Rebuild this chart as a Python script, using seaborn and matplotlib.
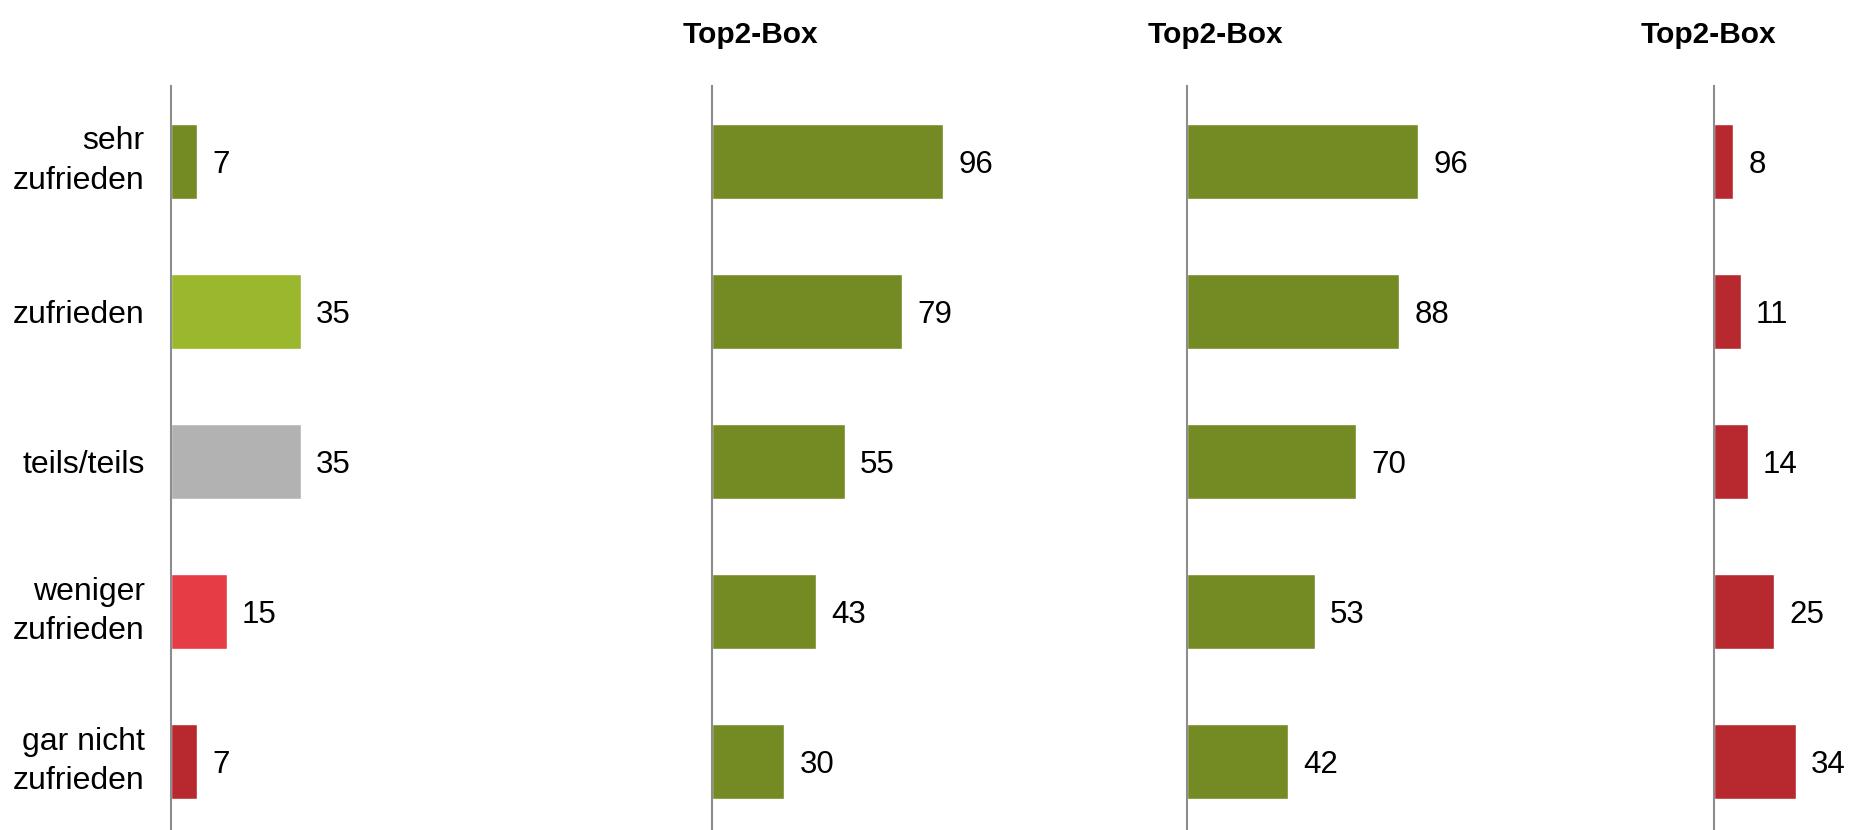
import matplotlib
matplotlib.use("Agg")
import matplotlib.pyplot as plt
import seaborn as sns
import pandas as pd

categories = ["sehr\nzufrieden", "zufrieden", "teils/teils", "weniger\nzufrieden", "gar nicht\nzufrieden"]
dist_values = [7, 35, 35, 15, 7]
dist_colors = ["#748A23", "#9BB72E", "#B2B2B2", "#E63C45", "#B8282F"]
top2_a = [96, 79, 55, 43, 30]
top2_b = [96, 88, 70, 53, 42]
top2_c = [8, 11, 14, 25, 34]
panel_titles = ["", "Top2-Box", "Top2-Box", "Top2-Box"]

sns.set_style("white")
plt.rcParams["font.family"] = ["Liberation Sans", "DejaVu Sans"]
plt.rcParams["text.color"] = "black"
plt.rcParams["ytick.color"] = "black"
plt.rcParams["ytick.labelcolor"] = "black"

W, H = 1850, 830
fig = plt.figure(figsize=(W / 100, H / 100), dpi=100)

# panel geometry in pixels: (left, width, px per unit)
panels = [
    (171, 389, 3.7),
    (712, 400, 2.41),
    (1187, 400, 2.41),
    (1714, 136, 2.41),
]
series = [dist_values, top2_a, top2_b, top2_c]
colors = [dist_colors, ["#748A23"] * 5, ["#748A23"] * 5, ["#B8282F"] * 5]
title_x = [None, 750, 1215, 1708]

top_px = 86
for i, ((left, width, scale), vals, cols) in enumerate(zip(panels, series, colors)):
    ax = fig.add_axes([left / W, 0, width / W, (H - top_px) / H])
    df = pd.DataFrame({"cat": categories, "val": vals})
    sns.barplot(data=df, y="cat", x="val", hue="cat", palette=cols, orient="h",
                width=0.5, legend=False, ax=ax, saturation=1)
    ax.set_xlim(0, width / scale)
    ax.set_ylim((H - 161.5) / 150, -0.5)
    for c in ax.containers:
        texts = ax.bar_label(c, labels=[f"{v:.0f}" for v in c.datavalues], padding=11,
                             fontsize=22.5, color="black")
        for t in texts:
            t.set_va("center_baseline")
    for s in ["top", "right", "bottom"]:
        ax.spines[s].set_visible(False)
    ax.spines["left"].set_color("#8c8c8c")
    ax.spines["left"].set_linewidth(1.5)
    ax.set_xticks([])
    ax.set_xlabel("")
    ax.set_ylabel("")
    ax.tick_params(axis="y", length=0, pad=19, labelsize=23, labelcolor="black")
    if i > 0:
        ax.set_yticklabels([])
    else:
        for t in ax.get_yticklabels():
            t.set_linespacing(1.4)
            if "\n" in t.get_text():
                t.set_va("center")
    if title_x[i] is not None:
        fig.text(title_x[i] / W, 1 - 35 / H, panel_titles[i], ha="center", va="center",
                 fontsize=21.5, fontweight="bold", color="black")

fig.savefig("out.png", dpi=100)
